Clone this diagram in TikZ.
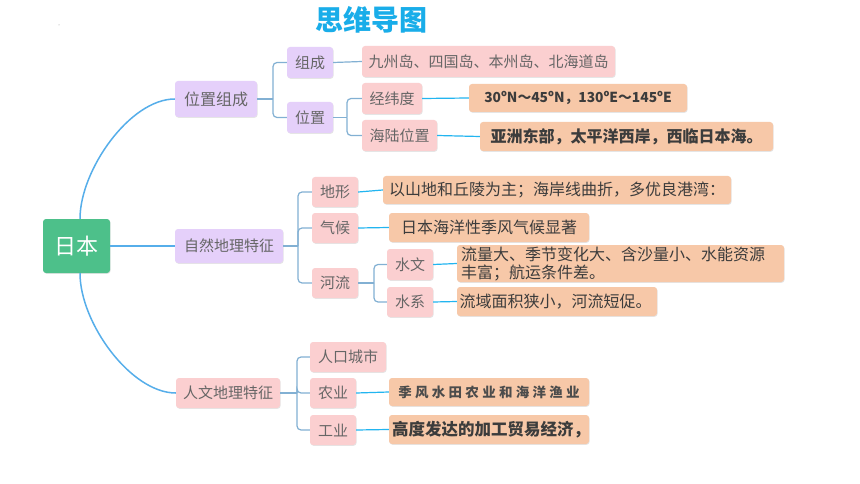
\documentclass[tikz,border=0pt]{standalone}
\usepackage{fontspec}
\setmainfont{Noto Sans CJK SC}
\usetikzlibrary{shadows}
\definecolor{purp}{HTML}{E5D0FA}
\definecolor{pinkbox}{HTML}{FBCFD0}
\definecolor{orng}{HTML}{F7C8A8}
\definecolor{rootgreen}{HTML}{4DC08A}
\definecolor{titleblue}{HTML}{19ADE9}
\definecolor{rootline}{HTML}{56AEEA}
\definecolor{brkline}{HTML}{82B0D3}
\definecolor{cyanline}{HTML}{22B5F0}
\definecolor{labelgray}{HTML}{666666}
\definecolor{darktext}{HTML}{3C3C3C}
\tikzset{
  boxbase/.style={rounded corners=3pt, inner sep=0pt, align=center,
    font=\fontsize{15}{18}\selectfont, text=labelgray,
    drop shadow={shadow xshift=0.6pt, shadow yshift=-0.8pt, fill=black, opacity=0.10}},
  purbox/.style={boxbase, fill=purp},
  pnkbox/.style={boxbase, fill=pinkbox},
  orgbox/.style={boxbase, fill=orng, text=darktext, font=\fontsize{16}{18}\selectfont},
  sz/.style 2 args={minimum width=#1pt, minimum height=#2pt},
  rootconn/.style={draw=rootline, line width=1.5pt},
  brk/.style={draw=brkline, line width=1.2pt, rounded corners=4pt},
  cyconn/.style={draw=cyanline, line width=1.2pt},
}
\begin{document}
\begin{tikzpicture}[x=1pt,y=-1pt]
\useasboundingbox (0,0) rectangle (860,484);
\fill[white] (0,0) rectangle (860,484);
\fill[black!40] (59,25) circle (0.5);

% title
\node[font=\bfseries\fontsize{28}{30}\selectfont, text=titleblue] (title) at (371,20) {思维导图};

% root and level 1
\node[boxbase, fill=rootgreen, text=white, font=\fontsize{22}{26}\selectfont, sz={67}{54}] (root) at (76.5,246) {日本};
\node[purbox, sz={82}{36}, font=\fontsize{16}{18}\selectfont] (p1) at (216,99) {位置组成};
\node[purbox, sz={108}{34}] (n1) at (229,246) {自然地理特征};
\node[pnkbox, sz={104}{30}] (h1) at (228,393) {人文地理特征};

% 位置组成 branch
\node[purbox, sz={46}{31}] (zc) at (310,62.5) {组成};
\node[purbox, sz={46}{31}] (wz) at (310,117.5) {位置};
\node[pnkbox, sz={253}{31}] (islands) at (488.5,61.5) {九州岛、四国岛、本州岛、北海道岛};
\node[pnkbox, sz={60}{31}] (jwd) at (392,98.5) {经纬度};
\node[pnkbox, sz={75}{31}] (hlwz) at (399.5,135.5) {海陆位置};
\node[orgbox, sz={218}{28}, font=\bfseries\fontsize{13.8}{18}\selectfont] (jwdT) at (578,98) {30ºN～45ºN，130ºE～145ºE};
\node[orgbox, sz={293}{29}, font=\bfseries\fontsize{16}{18}\selectfont] (hlwzT) at (626.5,136.5) {亚洲东部，太平洋西岸，西临日本海。};

% 自然地理特征 branch
\node[pnkbox, sz={46}{30}] (dx) at (335,192) {地形};
\node[pnkbox, sz={46}{30}] (qh) at (335,228) {气候};
\node[pnkbox, sz={46}{30}] (hl) at (335,283) {河流};
\node[orgbox, sz={348}{28}] (dxT) at (557,190) {以山地和丘陵为主；海岸线曲折，多优良港湾：};
\node[orgbox, sz={200}{29}] (qhT) at (489,227.5) {日本海洋性季风气候显著};
\node[pnkbox, sz={46}{31}] (sw) at (410,264.5) {水文};
\node[pnkbox, sz={46}{30}] (sx) at (410,302) {水系};
\node[orgbox, sz={327}{37}, align=left, text width=319pt] (swT) at (620.5,263.5) {流量大、季节变化大、含沙量小、水能资源\\丰富；航运条件差。};
\node[orgbox, sz={200}{29}, align=left, text width=195pt] (sxT) at (557,301.5) {流域面积狭小，河流短促。};

% 人文地理特征 branch
\node[pnkbox, sz={76}{30}] (rk) at (348,357) {人口城市};
\node[pnkbox, sz={46}{30}] (ny) at (333,393) {农业};
\node[pnkbox, sz={46}{30}] (gy) at (333,430) {工业};
\node[orgbox, sz={200}{28}, font=\bfseries\fontsize{13.5}{16}\selectfont, text=black!70] (nyT) at (489,392) {季\hspace{3.3pt}风\hspace{3.3pt}水\hspace{3.3pt}田\hspace{3.3pt}农\hspace{3.3pt}业\hspace{3.3pt}和\hspace{3.3pt}海\hspace{3.3pt}洋\hspace{3.3pt}渔\hspace{3.3pt}业};
\node[orgbox, sz={200}{29}, font=\bfseries\fontsize{16.5}{18}\selectfont, align=left, text width=194pt] (gyT) at (489,429.5) {高度发达的加工贸易经济，};

% root connectors
\draw[rootconn] ([xshift=3.5pt]root.north) .. controls (80,170) and (130,99) .. (p1.west);
\draw[rootconn] ([xshift=3.5pt]root.south) .. controls (80,323) and (131,393) .. (h1.west);
\draw[rootconn] (root.east) -- (n1.west);

% brackets
\coordinate (b1) at (273,99);
\draw[brk] (p1.east) -- (b1);
\draw[brk] (b1) |- (zc.west);
\draw[brk] (b1) |- (wz.west);
\draw[brk] (zc.east) -- (islands.west);

\coordinate (b2) at (347,117.5);
\draw[brk] (wz.east) -- (b2);
\draw[brk] (b2) |- (jwd.west);
\draw[brk] (b2) |- (hlwz.west);
\draw[cyconn] (jwd.east) -- (jwdT.west);
\draw[cyconn] (hlwz.east) -- (hlwzT.west);

\coordinate (b3) at (298,246);
\draw[brk] (n1.east) -- (b3);
\draw[brk] (b3) |- (dx.west);
\draw[brk] (b3) |- (qh.west);
\draw[brk] (b3) |- (hl.west);
\draw[cyconn] (dx.east) -- (dxT.west);
\draw[cyconn] (qh.east) -- (qhT.west);

\coordinate (b4) at (374,283);
\draw[brk] (hl.east) -- (b4);
\draw[brk] (b4) |- (sw.west);
\draw[brk] (b4) |- (sx.west);
\draw[cyconn] (sw.east) -- (swT.west);
\draw[cyconn] (sx.east) -- (sxT.west);

\coordinate (b5) at (297,393);
\draw[brk] (h1.east) -- (b5);
\draw[brk] (b5) |- (rk.west);
\draw[brk] (b5) |- (ny.west);
\draw[brk] (b5) |- (gy.west);
\draw[cyconn] (ny.east) -- (nyT.west);
\draw[cyconn] (gy.east) -- (gyT.west);
\end{tikzpicture}
\end{document}
